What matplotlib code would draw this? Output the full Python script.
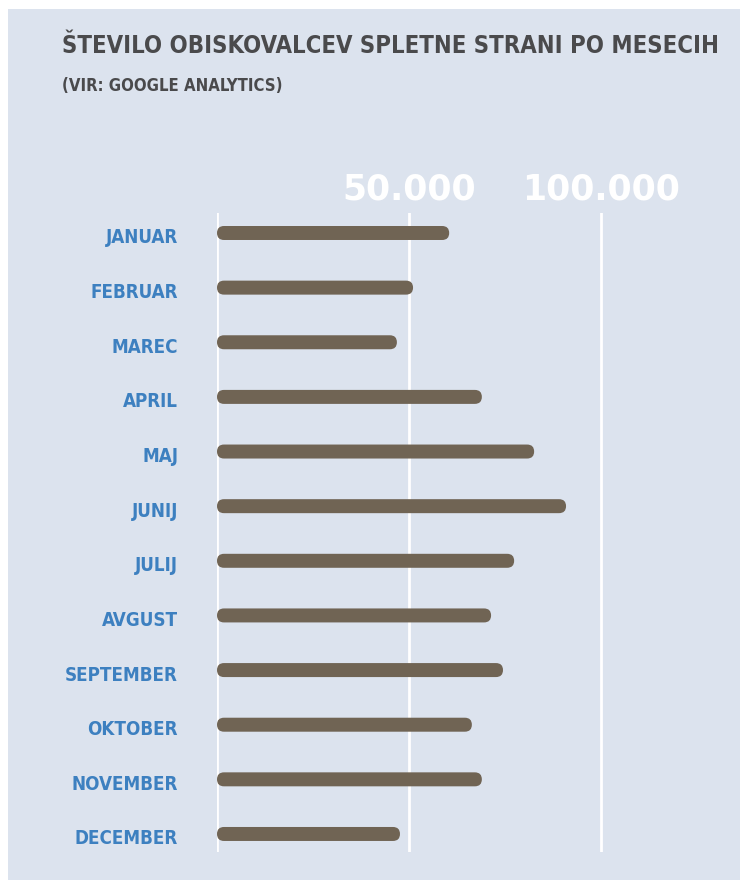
import matplotlib
matplotlib.use("Agg")
from matplotlib import pyplot as plt
from matplotlib.patches import FancyBboxPatch, Rectangle
from matplotlib.transforms import ScaledTranslation

# data
months = ["JANUAR", "FEBRUAR", "MAREC", "APRIL", "MAJ", "JUNIJ", "JULIJ",
          "AVGUST", "SEPTEMBER", "OKTOBER", "NOVEMBER", "DECEMBER"]
visitors = [60400, 51000, 46800, 68900, 82500, 90800, 77300,
            71300, 74400, 66300, 68900, 47600]
grid_values = [0, 50000, 100000]
tick_values = [50000, 100000]
tick_labels = ["50.000", "100.000"]

title = "ŠTEVILO OBISKOVALCEV SPLETNE STRANI PO MESECIH"
subtitle = "(VIR: GOOGLE ANALYTICS)"

bg = "#dce3ee"
bar_col = "#706454"
label_col = "#3d80c0"
title_col = "#4a4a4c"
cond = ["DejaVu Sans"]

fig = plt.figure(figsize=(7.4, 8.8), dpi=100)
fig.patch.set_facecolor("white")
fig.patches.append(Rectangle((8 / 740, 0), 1, (880 - 9) / 880,
                             transform=fig.transFigure, facecolor=bg,
                             edgecolor="none", zorder=-5))

ax = fig.add_axes([217 / 740, 28 / 880, 483 / 740, 639 / 880])
ax.set_facecolor("none")
ax.set_xlim(0, 125650)
ax.set_ylim(11.33, -0.366)
for s in ax.spines.values():
    s.set_visible(False)

for g in grid_values:
    ax.axvline(g, color="white", lw=2, zorder=1)

bar_h = 0.256
bars = ax.barh(range(len(months)), visitors, height=bar_h, color=bar_col)

# turn the plain bars into rounded ones
x0, y0 = ax.transData.transform((0, 0))
x1, y1 = ax.transData.transform((1, 1))
px_x = abs(x1 - x0)
px_y = abs(y1 - y0)
r_px = bar_h * px_y / 2
r_x = r_px / px_x
for b in bars:
    b.set_visible(False)
    p = FancyBboxPatch((b.get_x(), b.get_y()), b.get_width(), b.get_height(),
                       boxstyle="round,pad=0,rounding_size=%f" % r_x,
                       mutation_aspect=(r_px / px_y) / r_x,
                       facecolor=bar_col, edgecolor="none", zorder=2)
    ax.add_patch(p)

ax.set_yticks(range(len(months)))
ax.set_yticklabels(months, family=cond, fontstretch="condensed", fontweight="bold",
                   fontsize=13.5, color=label_col)
ax.tick_params(axis="y", length=0, pad=28)
shift = ScaledTranslation(0, -3 / 100, fig.dpi_scale_trans)
for lab in ax.get_yticklabels():
    lab.set_va("center_baseline")
    lab.set_transform(lab.get_transform() + shift)

ax.xaxis.tick_top()
ax.set_xticks(tick_values)
ax.set_xticklabels(tick_labels, family=["DejaVu Sans"], fontweight="bold",
                   fontsize=25, color="white")
ax.tick_params(axis="x", length=0, pad=5)

fig.text(62 / 740, 1 - 53 / 880, title, family=cond, fontstretch="condensed",
         fontweight="bold", fontsize=17.1, color=title_col, va="baseline", ha="left")
fig.text(62 / 740, 1 - 91 / 880, subtitle, family=cond, fontstretch="condensed",
         fontweight="bold", fontsize=12, color=title_col, va="baseline", ha="left")

plt.savefig("out.png", dpi=100)
plt.close(fig)
